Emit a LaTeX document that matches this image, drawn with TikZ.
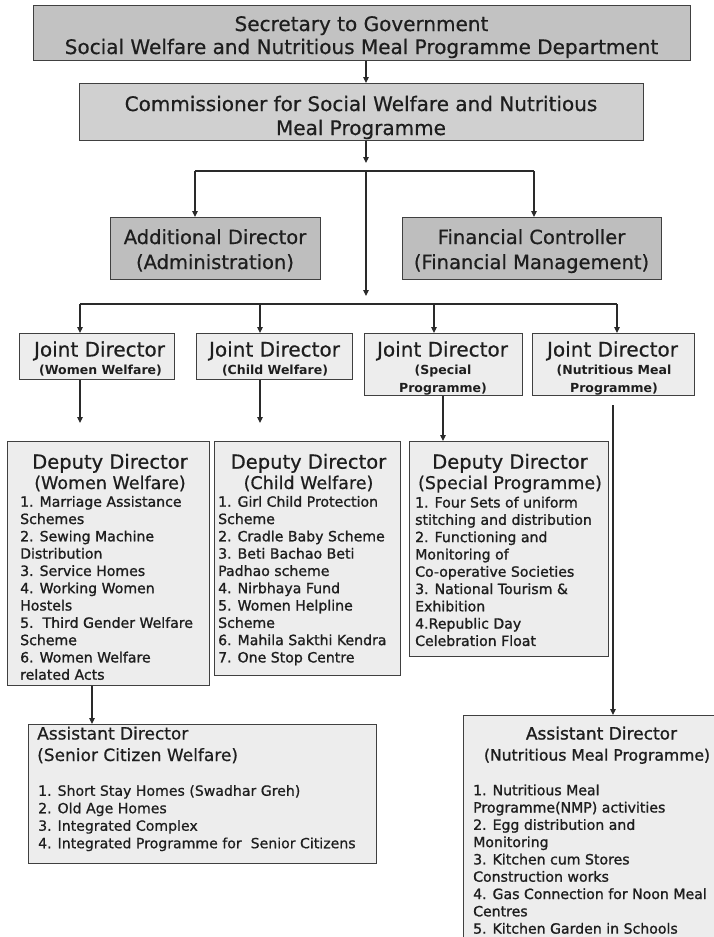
\documentclass[tikz,border=0pt]{standalone}
\usepackage{fontspec}
\setmainfont{DejaVu Sans}
\newfontfamily\fbold[FakeBold=1.2]{DejaVu Sans}
\newfontfamily\fsemi[FakeBold=0.6]{DejaVu Sans}
\usetikzlibrary{arrows.meta,calc}
\definecolor{bc}{HTML}{404040}
\definecolor{lc}{HTML}{2A2A2A}
\definecolor{tc}{HTML}{1E1E1E}
\definecolor{gA}{HTML}{C2C2C2}
\definecolor{gB}{HTML}{D0D0D0}
\definecolor{gC}{HTML}{BEBEBE}
\definecolor{gD}{HTML}{EDEDED}
\tikzset{
  box/.style={draw=bc, line width=1.4pt, inner sep=0pt, anchor=north west},
  ln/.style={draw=lc, line width=1.2pt},
  arr/.style={ln, -{Triangle[length=6pt,width=5.5pt]}},
  tx/.style={inner sep=0pt, text=tc, anchor=base},
  lst/.style={inner sep=0pt, text=tc, anchor=north west, align=left},
  hA/.style={font=\fsemi\fontsize{20}{24}\selectfont},
  hB/.style={font=\fsemi\fontsize{19.5}{23}\selectfont},
  hC/.style={font=\fsemi\fontsize{17.5}{21}\selectfont},
  hS/.style={font=\bfseries\fontsize{12.5}{15}\selectfont},
  hD/.style={font=\fsemi\fontsize{17}{20}\selectfont},
  hN/.style={font=\fbold\fontsize{15.6}{19}\selectfont},
  iB/.style={font=\fbold\fontsize{14.1}{17.3}\selectfont},
  iR/.style={font=\fsemi\fontsize{14.1}{17.5}\selectfont},
}
\begin{document}
\begin{tikzpicture}[x=1pt,y=-1pt]
\useasboundingbox (0,0) rectangle (713,937);
% ---------- boxes ----------
\node[box, fill=gA, minimum width=657, minimum height=55] (sec) at (33,5) {};
\node[box, fill=gB, minimum width=564, minimum height=57] (comm) at (79,83) {};
\node[box, fill=gC, minimum width=210, minimum height=62] (ad) at (110,217) {};
\node[box, fill=gC, minimum width=259, minimum height=62] (fc) at (402,217) {};
\node[box, fill=gD, minimum width=155, minimum height=46] (jd1) at (19,333) {};
\node[box, fill=gD, minimum width=156, minimum height=46] (jd2) at (196,333) {};
\node[box, fill=gD, minimum width=158, minimum height=62] (jd3) at (364,333) {};
\node[box, fill=gD, minimum width=162, minimum height=62] (jd4) at (532,333) {};
\node[box, fill=gD, minimum width=202, minimum height=244] (dd1) at (7,441) {};
\node[box, fill=gD, minimum width=186, minimum height=234] (dd2) at (214,441) {};
\node[box, fill=gD, minimum width=199, minimum height=215] (dd3) at (409,441) {};
\node[box, fill=gD, minimum width=348, minimum height=139] (sc) at (28,724) {};
\node[box, fill=gD, minimum width=280, minimum height=240] (nmp) at (463,715) {};
% ---------- texts ----------
\node[tx,hA] (secT1) at (361.5,31) {Secretary to Government};
\node[tx,hA] (secT2) at (361.5,54) {Social Welfare and Nutritious Meal Programme Department};
\node[tx,hA] (comT1) at (361,111) {Commissioner for Social Welfare and Nutritious};
\node[tx,hA] (comT2) at (361,135) {Meal Programme};
\node[tx,hB] (adT1) at (215,244) {Additional Director};
\node[tx,hB] (adT2) at (215,269) {(Administration)};
\node[tx,hB] (fcT1) at (531.5,244) {Financial Controller};
\node[tx,hB] (fcT2) at (531.5,269) {(Financial Management)};
\node[tx,hA] (jd1T) at (99.5,356.5) {Joint Director};
\node[tx,hS] (jd1S) at (100.5,374.5) {(Women Welfare)};
\node[tx,hA] (jd2T) at (274.5,356.5) {Joint Director};
\node[tx,hS] (jd2S) at (275,374.5) {(Child Welfare)};
\node[tx,hA] (jd3T) at (442.5,356.5) {Joint Director};
\node[tx,hS] (jd3S1) at (443,374.5) {(Special};
\node[tx,hS] (jd3S2) at (443,392) {Programme)};
\node[tx,hA] (jd4T) at (612.5,356.5) {Joint Director};
\node[tx,hS] (jd4S1) at (614,374.5) {(Nutritious Meal};
\node[tx,hS] (jd4S2) at (614,392) {Programme)};
\node[tx,hB] (dd1T) at (110,468.7) {Deputy Director};
\node[tx,hC] (dd1S) at (110,489) {(Women Welfare)};
\node[tx,hB] (dd2T) at (308.5,468.7) {Deputy Director};
\node[tx,hC] (dd2S) at (308.5,489) {(Child Welfare)};
\node[tx,hB] (dd3T) at (510,468.7) {Deputy Director};
\node[tx,hC] (dd3S) at (510,489) {(Special Programme)};
\node[lst,iB] (dd1L) at (20,494.4) {\strut 1. Marriage Assistance\\Schemes\\2. Sewing Machine\\Distribution\\3. Service Homes\\4. Working Women\\Hostels\\5.\ \ Third Gender Welfare\\Scheme\\6. Women Welfare\\related Acts};
\node[lst,iB] (dd2L) at (218,494.4) {\strut 1. Girl Child Protection\\Scheme\\2. Cradle Baby Scheme\\3. Beti Bachao Beti\\Padhao scheme\\4. Nirbhaya Fund\\5. Women Helpline\\Scheme\\6. Mahila Sakthi Kendra\\7. One Stop Centre};
\node[lst,iB] (dd3L) at (415,495.2) {\strut 1. Four Sets of uniform\\stitching and distribution\\2. Functioning and\\Monitoring of\\Co-operative Societies\\3. National Tourism \&\\Exhibition\\4.Republic Day\\Celebration Float};
\node[tx,hD,anchor=base west] (scT1) at (37,739.5) {Assistant Director};
\node[tx,hD,anchor=base west] (scT2) at (37,761) {(Senior Citizen Welfare)};
\node[lst,iR] (scL) at (38,783.3) {\strut 1. Short Stay Homes (Swadhar Greh)\\2. Old Age Homes\\3. Integrated Complex\\4. Integrated Programme for\ \ Senior Citizens};
\node[tx,font=\fbold\fontsize{17}{20}\selectfont] (nmT1) at (601.5,739.5) {Assistant Director};
\node[tx,hN] (nmT2) at (597,760.6) {(Nutritious Meal Programme)};
\node[lst,iB] (nmL) at (473,782.9) {\strut 1. Nutritious Meal\\Programme(NMP) activities\\2. Egg distribution and\\Monitoring\\3. Kitchen cum Stores\\Construction works\\4. Gas Connection for Noon Meal\\Centres\\5. Kitchen Garden in Schools};
% ---------- connectors ----------
\coordinate (v) at (366,0);
\coordinate (c1) at (366,163);
\coordinate (bA) at (195,171);
\coordinate (bM) at (366,171);
\coordinate (bB) at (534,171);
\coordinate (c2) at (366,296);
\coordinate (j1) at (80,304);
\coordinate (j2) at (260,304);
\coordinate (j3) at (434,304);
\coordinate (j4) at (617,304);
\coordinate (k1) at (80,423);
\coordinate (k2) at (260,423);
\coordinate (k3) at (443,0);
\coordinate (k4) at (613,405);
\coordinate (k5) at (92,0);
\draw[arr] (sec.south -| v) -- (comm.north -| v);
\draw[arr] (comm.south -| v) -- (c1);
\draw[ln] (bA) -- (bB);
\draw[arr] (bA) -- (bA |- ad.north);
\draw[arr] (bB) -- (bB |- fc.north);
\draw[arr] (bM) -- (c2);
\draw[ln] (j1) -- (j4);
\draw[arr] (j1) -- (j1 |- jd1.north);
\draw[arr] (j2) -- (j2 |- jd2.north);
\draw[arr] (j3) -- (j3 |- jd3.north);
\draw[arr] (j4) -- (j4 |- jd4.north);
\draw[arr] (jd1.south -| k1) -- (k1);
\draw[arr] (jd2.south -| k2) -- (k2);
\draw[arr] (jd3.south -| k3) -- (dd3.north -| k3);
\draw[arr] (k4) -- (k4 |- nmp.north);
\draw[arr] (dd1.south -| k5) -- (sc.north -| k5);
\end{tikzpicture}
\end{document}
